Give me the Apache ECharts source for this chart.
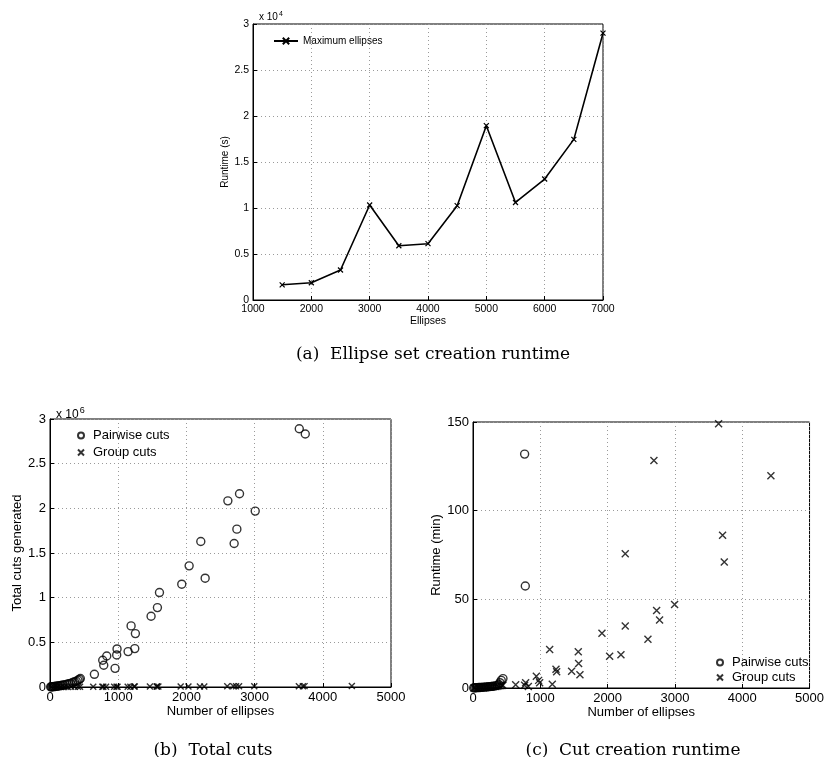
<!DOCTYPE html>
<html>
<head>
<meta charset="utf-8">
<script src="https://cdn.jsdelivr.net/npm/echarts@6/dist/echarts.min.js"></script>
<style>
  html, body { margin: 0; padding: 0; background: #fff; }
  #chart { width: 827px; height: 757px; }
</style>
</head>
<body>
<div id="chart"></div>
<script>
// (a) ellipse set creation runtime
var ellipseCounts = [1500, 2000, 2500, 3000, 3500, 4000, 4500, 5000, 5500, 6000, 6500, 7000];
var creationRuntime = [1650, 1880, 3260, 10330, 5900, 6120, 10250, 18950, 10600, 13150, 17460, 29000];

// (b) total cuts generated  [ellipses, cuts]
var pairwiseCuts = [
  [10, 1000], [20, 2000], [35, 3000], [50, 4000], [60, 5000], [75, 6000], [90, 8000],
  [105, 10000], [120, 11000], [140, 14000], [160, 16000], [180, 19000], [200, 22000],
  [225, 27000], [250, 31000], [275, 36000], [300, 40000], [330, 50000], [360, 58000],
  [385, 64000], [410, 75000], [430, 85000], [445, 95000],
  [651, 142000], [773, 299000], [788, 243000], [832, 347000], [954, 209000],
  [978, 359000], [983, 426000], [1145, 396000], [1189, 684000], [1243, 430000],
  [1252, 598000], [1482, 792000], [1575, 889000], [1605, 1057000], [1932, 1151000],
  [2040, 1356000], [2211, 1629000], [2275, 1218000], [2608, 2084000], [2700, 1606000],
  [2740, 1767000], [2779, 2163000], [3009, 1969000], [3655, 2891000], [3743, 2832000]
];
var groupCuts = [
  [20, 200], [60, 400], [110, 600], [160, 800], [210, 1000], [260, 1200], [310, 1500],
  [360, 1700], [410, 2000], [440, 2100],
  [634, 2500], [767, 2800], [782, 3000], [822, 3100], [941, 3400], [975, 3600],
  [990, 3700], [1139, 4000], [1178, 4100], [1233, 4300], [1243, 4400], [1465, 5000],
  [1564, 5200], [1569, 5300], [1589, 5400], [1916, 6000], [2030, 6300], [2198, 6700],
  [2262, 6900], [2599, 7500], [2688, 7700], [2728, 7800], [2772, 7900], [2995, 8400],
  [3649, 9600], [3708, 9700], [3733, 9800], [4426, 11000]
];

// (c) cut creation runtime  [ellipses, minutes]
var pairwiseRuntime = [
  [10, 0.05], [25, 0.1], [45, 0.15], [65, 0.2], [85, 0.25], [105, 0.3], [125, 0.35],
  [150, 0.4], [175, 0.5], [200, 0.6], [225, 0.7], [250, 0.8], [275, 0.9], [300, 1.0],
  [330, 1.2], [360, 1.5], [385, 2.0], [400, 3.0], [420, 4.3], [445, 5.3],
  [767, 131.9], [777, 57.5]
];
var groupRuntime = [
  [15, 0.05], [40, 0.1], [70, 0.15], [100, 0.2], [130, 0.25], [160, 0.3], [190, 0.4],
  [220, 0.5], [250, 0.6], [280, 0.7], [310, 0.8], [340, 0.9], [370, 1.0], [400, 1.2],
  [430, 1.4], [445, 1.5],
  [634, 1.9], [767, 1.5], [782, 3.0], [822, 0.9], [941, 6.6], [975, 4.3], [990, 3.0],
  [1139, 21.7], [1178, 2.1], [1233, 10.6], [1243, 9.2], [1465, 9.4], [1564, 20.5],
  [1569, 13.8], [1589, 7.5], [1916, 30.9], [2030, 17.9], [2198, 18.8], [2262, 34.9],
  [2262, 75.7], [2599, 27.5], [2688, 128.3], [2728, 43.7], [2772, 38.4], [2995, 47.1],
  [3649, 149.0], [3708, 86.1], [3733, 71.0], [4426, 119.7]
];

var crossPath = 'path://M0,0L10,10M10,0L0,10';
var sans = 'Liberation Sans';
var serif = 'DejaVu Serif';

function gridLine() {
  return { show: true, lineStyle: { color: '#9a9a9a', type: [1, 3], width: 1 } };
}

function makeAxis(opts, size) {
  var base = {
    type: 'value',
    axisLine: { show: true, onZero: false, lineStyle: { color: '#000', width: 1 } },
    axisTick: { show: true, inside: true, length: 4, lineStyle: { color: '#000' } },
    axisLabel: { color: '#000', fontFamily: sans, fontSize: size, margin: 4,
      formatter: function (v) { return String(v); } },
    splitLine: gridLine(),
    nameTextStyle: { color: '#000', fontFamily: sans, fontSize: size }
  };
  for (var k in opts) base[k] = opts[k];
  return base;
}

var chart = echarts.init(document.getElementById('chart'), null, { renderer: 'canvas' });

var captionStyle = { fontFamily: serif, fontSize: 17, fontWeight: 'normal', color: '#000' };

var option = {
  backgroundColor: '#fff',
  animation: false,
  title: [
    { text: '(a)  Ellipse set creation runtime', left: 428, top: 341, textAlign: 'center',
      textStyle: captionStyle },
    { text: '(b)  Total cuts', left: 208, top: 737, textAlign: 'center',
      textStyle: captionStyle },
    { text: '(c)  Cut creation runtime', left: 628, top: 737, textAlign: 'center',
      textStyle: captionStyle },
    { text: '{a|x 10}{b|4}', left: 254, top: 6,
      textStyle: { fontWeight: 'normal', rich: {
        a: { fontFamily: sans, fontSize: 10, fontWeight: 'normal', color: '#000' },
        b: { fontFamily: sans, fontSize: 7, fontWeight: 'normal', color: '#000', verticalAlign: 'top', padding: [0, 0, 6, 1] } } } },
    { text: '{a|x 10}{b|6}', left: 51, top: 401,
      textStyle: { fontWeight: 'normal', rich: {
        a: { fontFamily: sans, fontSize: 12, fontWeight: 'normal', color: '#000' },
        b: { fontFamily: sans, fontSize: 9, fontWeight: 'normal', color: '#000', verticalAlign: 'top', padding: [0, 0, 8, 1] } } } }
  ],
  legend: [
    { data: ['Maximum ellipses'], left: 268, top: 31, itemWidth: 24, itemHeight: 8,
      textStyle: { fontFamily: sans, fontSize: 10, color: '#000' } },
    { data: ['Pairwise cuts', 'Group cuts'], orient: 'vertical', left: 72, top: 424,
      itemWidth: 14, itemHeight: 6, itemGap: 4,
      textStyle: { fontFamily: sans, fontSize: 13, color: '#000' } },
    { data: ['Pairwise cuts ', 'Group cuts '], orient: 'vertical', left: 711, top: 651,
      itemWidth: 14, itemHeight: 6, itemGap: 2,
      textStyle: { fontFamily: sans, fontSize: 13, color: '#000' } }
  ],
  grid: [
    { left: 253, top: 24, width: 350, height: 276, show: true, borderColor: '#000', borderWidth: 1 },
    { left: 50, top: 419, width: 341, height: 268, show: true, borderColor: '#000', borderWidth: 1 },
    { left: 473, top: 422, width: 337, height: 266, show: true, borderColor: '#000', borderWidth: 1 }
  ],
  xAxis: [
    makeAxis({ gridIndex: 0, min: 1000, max: 7000, interval: 1000, name: 'Ellipses',
      nameLocation: 'middle', nameGap: 16 }, 10.5),
    makeAxis({ gridIndex: 1, min: 0, max: 5000, interval: 1000, name: 'Number of ellipses',
      nameLocation: 'middle', nameGap: 16 }, 13),
    makeAxis({ gridIndex: 2, min: 0, max: 5000, interval: 1000, name: 'Number of ellipses',
      nameLocation: 'middle', nameGap: 16 }, 13)
  ],
  yAxis: [
    makeAxis({ gridIndex: 0, min: 0, max: 30000, interval: 5000, name: 'Runtime (s)',
      nameLocation: 'middle', nameGap: 20,
      axisLabel: { color: '#000', fontFamily: sans, fontSize: 10.5, margin: 4,
        formatter: function (v) { return String(v / 10000); } } }, 10),
    makeAxis({ gridIndex: 1, min: 0, max: 3000000, interval: 500000, name: 'Total cuts generated',
      nameLocation: 'middle', nameGap: 24,
      axisLabel: { color: '#000', fontFamily: sans, fontSize: 13, margin: 4,
        formatter: function (v) { return String(v / 1000000); } } }, 13),
    makeAxis({ gridIndex: 2, min: 0, max: 150, interval: 50, name: 'Runtime (min)',
      nameLocation: 'middle', nameGap: 28 }, 13)
  ],
  series: [
    { name: 'Maximum ellipses', type: 'line', xAxisIndex: 0, yAxisIndex: 0,
      data: ellipseCounts.map(function (x, i) { return [x, creationRuntime[i]]; }),
      symbol: crossPath, symbolSize: 5, showAllSymbol: true,
      lineStyle: { color: '#000', width: 1.6 },
      itemStyle: { color: '#000', borderColor: '#000', borderWidth: 1.2 } },
    { name: 'Pairwise cuts', type: 'scatter', xAxisIndex: 1, yAxisIndex: 1, data: pairwiseCuts,
      symbol: 'circle', symbolSize: 8,
      itemStyle: { color: 'rgba(0,0,0,0)', borderColor: '#000', borderWidth: 1.4 } },
    { name: 'Group cuts', type: 'scatter', xAxisIndex: 1, yAxisIndex: 1, data: groupCuts,
      symbol: crossPath, symbolSize: 6,
      itemStyle: { color: 'rgba(0,0,0,0)', borderColor: '#000', borderWidth: 1.4 } },
    { name: 'Pairwise cuts ', type: 'scatter', xAxisIndex: 2, yAxisIndex: 2, data: pairwiseRuntime,
      symbol: 'circle', symbolSize: 8,
      itemStyle: { color: 'rgba(0,0,0,0)', borderColor: '#000', borderWidth: 1.4 } },
    { name: 'Group cuts ', type: 'scatter', xAxisIndex: 2, yAxisIndex: 2, data: groupRuntime,
      symbol: crossPath, symbolSize: 7,
      itemStyle: { color: 'rgba(0,0,0,0)', borderColor: '#000', borderWidth: 1.4 } }
  ]
};

chart.setOption(option);
</script>
</body>
</html>
